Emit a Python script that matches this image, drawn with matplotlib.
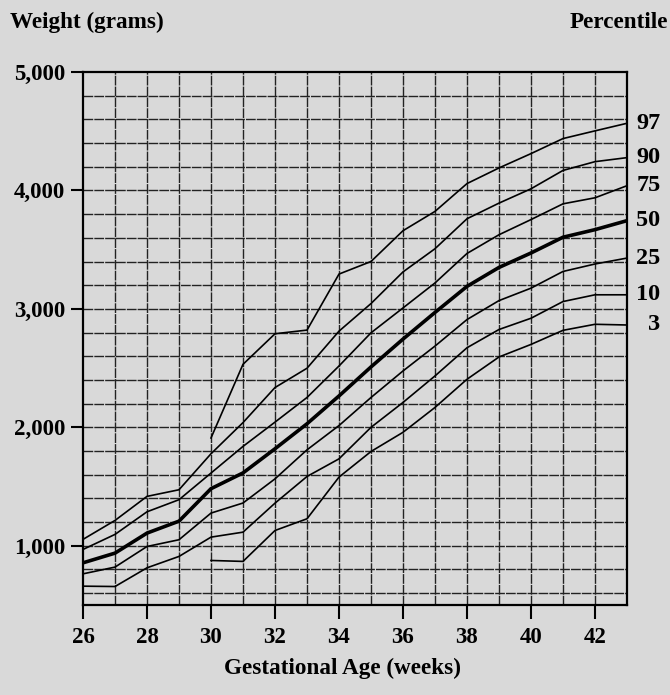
import numpy as np
import matplotlib
matplotlib.use("Agg")
import matplotlib.pyplot as plt

# gestational age (weeks) and birth weight percentiles (grams)
weeks = list(range(26, 44))

p97 = [None, None, None, None, 1910, 2532, 2790, 2821, 3294, 3400, 3660, 3823, 4058, 4190, 4311, 4438, 4503, 4567]
p90 = [1054, 1214, 1417, 1473, 1777, 2040, 2336, 2499, 2812, 3045, 3312, 3508, 3761, 3893, 4014, 4169, 4243, 4277]
p75 = [969, 1096, 1287, 1389, 1614, 1839, 2044, 2252, 2518, 2798, 3008, 3219, 3468, 3626, 3754, 3887, 3938, 4040]
p50 = [856, 938, 1107, 1208, 1482, 1615, 1819, 2030, 2265, 2510, 2745, 2970, 3190, 3350, 3472, 3605, 3669, 3745]
p25 = [763, 820, 994, 1051, 1276, 1361, 1565, 1810, 2015, 2252, 2476, 2686, 2910, 3070, 3175, 3316, 3379, 3429]
p10 = [659, 656, 814, 910, 1073, 1115, 1360, 1585, 1734, 2000, 2210, 2434, 2672, 2826, 2921, 3062, 3119, 3119]
p3 = [None, None, None, None, 876, 868, 1129, 1228, 1580, 1796, 1958, 2168, 2406, 2594, 2700, 2819, 2870, 2864]

curves = [("97", p97), ("90", p90), ("75", p75), ("50", p50),
          ("25", p25), ("10", p10), ("3", p3)]

bg = "#d9d9d9"
font = ["Liberation Serif", "DejaVu Serif"]
plt.rcParams["font.family"] = font
plt.rcParams["font.weight"] = "bold"

fig = plt.figure(figsize=(6.7, 6.95), dpi=100, facecolor=bg)
ax = fig.add_axes([83 / 670, 1 - 605 / 695, 544 / 670, 533 / 695])
ax.set_facecolor(bg)

ax.set_xlim(26, 43)
ax.set_ylim(500, 5000)

# grid: every week, every 200 g
for w in range(27, 43):
    ax.axvline(w, color="#222222", lw=1.0, ls=(0, (7, 0.8)), zorder=1)
for g in range(600, 5000, 200):
    ax.axhline(g, color="#222222", lw=1.0, ls=(0, (7, 0.8)), zorder=1)

for name, vals in curves:
    xs = [w for w, v in zip(weeks, vals) if v is not None]
    ys = [v for v in vals if v is not None]
    lw = 2.6 if name == "50" else 1.2
    ax.plot(xs, ys, color="black", lw=lw, zorder=3, solid_joinstyle="miter")
    ax.text(44.05, ys[-1], name, ha="right", va="center", fontsize=17.5,
            fontweight="bold", clip_on=False)

for s in ax.spines.values():
    s.set_linewidth(1.6)
    s.set_color("black")

ax.set_xticks(range(26, 43, 2))
ax.set_xticklabels([str(w) for w in range(26, 43, 2)])
ax.set_yticks([1000, 2000, 3000, 4000, 5000])
ax.set_yticklabels(["1,000", "2,000", "3,000", "4,000", "5,000"])
ax.tick_params(axis="x", direction="out", length=10, width=1.5, pad=6, labelsize=16.5)
ax.tick_params(axis="y", direction="out", length=9, width=1.5, pad=4, labelsize=16.5)
for lab in ax.get_xticklabels() + ax.get_yticklabels():
    lab.set_fontweight("bold")

fig.text(10 / 670, 1 - 22 / 695, "Weight (grams)", ha="left", va="center",
         fontsize=16.7, fontweight="bold")
fig.text(668 / 670, 1 - 22 / 695, "Percentile", ha="right", va="center",
         fontsize=16.7, fontweight="bold")
fig.text(342 / 670, 1 - 668 / 695, "Gestational Age (weeks)", ha="center",
         va="center", fontsize=16.7, fontweight="bold")

fig.savefig("out.png", dpi=100, facecolor=bg)
